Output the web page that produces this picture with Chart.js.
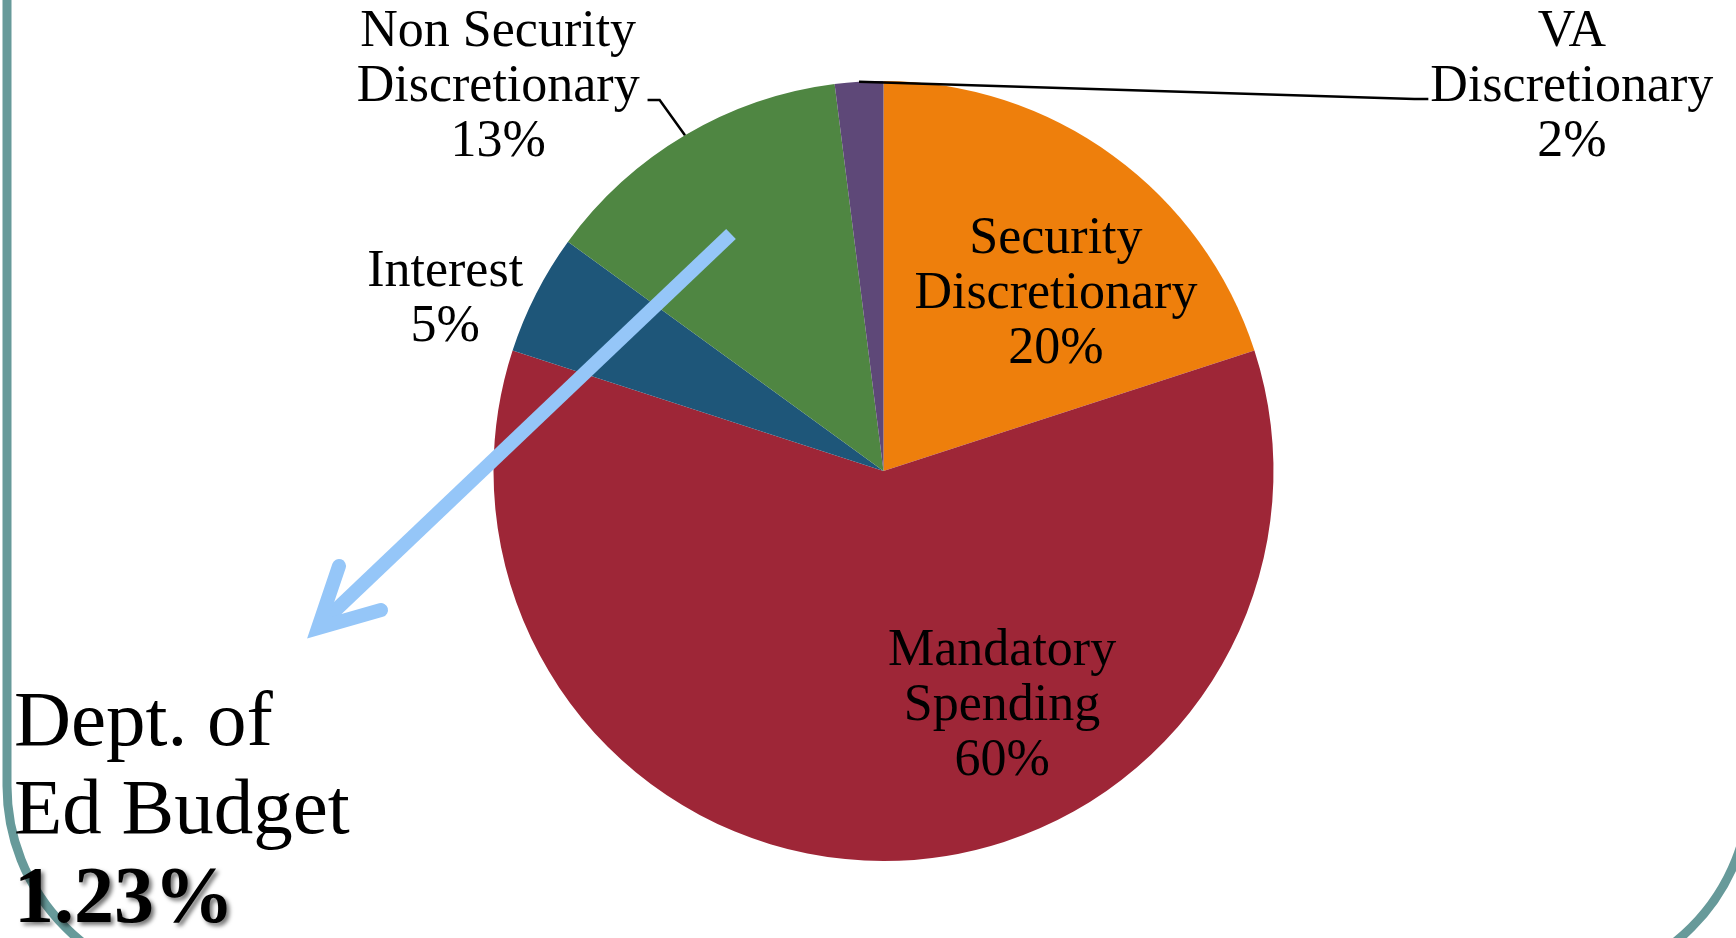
<!DOCTYPE html>
<html lang="en">
<head>
<meta charset="UTF-8">
<title>Federal Budget Share</title>
<style>
  html, body { margin: 0; padding: 0; background: #ffffff; }
  #budgetChart { display: block; }
  .warm { position: absolute; left: -9999px; top: 0; font-family: "Liberation Serif"; }
</style>
</head>
<body>
<span class="warm">Aa <b>Bb</b></span>
<canvas id="budgetChart" width="1736" height="938" style="width:1736px;height:938px;"></canvas>
<script src="https://cdn.jsdelivr.net/npm/chart.js@4/dist/chart.umd.min.js"></script>
<script>
// chart data
const categories = ['Security Discretionary', 'Mandatory Spending', 'Interest', 'Non Security Discretionary', 'VA Discretionary'];
const shares = [20, 60, 5, 13, 2];
const sliceColors = ['#EE7F0C', '#9E2637', '#1E5679', '#4F8642', '#5E4878'];
const sideNote = ['Dept. of', 'Ed Budget'];
const sideValue = '1.23%';

// where each label sits, in pie radii from the centre (first line baseline)
const labelSpots = [
  { dx: 0.442, dy: -0.559 },
  { dx: 0.304, dy: 0.497 },
  { dx: -1.124, dy: -0.474 },
  { dx: -0.988, dy: -1.090 },
  { dx: 1.765, dy: -1.090 }
];
// leader lines for outside labels: elbow and end, in radii from the centre
const leaders = {
  3: [{ dx: -0.574, dy: -0.951 }, { dx: -0.605, dy: -0.951 }],
  4: [{ dx: 1.361, dy: -0.954 }, { dx: 1.397, dy: -0.954 }]
};

const SERIF = '"Liberation Serif", "Times New Roman", "DejaVu Serif", serif';

function splitName(name) {
  const i = name.lastIndexOf(' ');
  return i < 0 ? [name] : [name.slice(0, i), name.slice(i + 1)];
}

const decorations = {
  id: 'decorations',
  afterDatasetsDraw(chart) {
    const ctx = chart.ctx;
    const arcs = chart.getDatasetMeta(0).data;
    const cx = arcs[0].x, cy = arcs[0].y, r = arcs[0].outerRadius;

    ctx.save();
    // leader lines
    ctx.strokeStyle = '#000000';
    ctx.lineWidth = 2.5;
    Object.keys(leaders).forEach(function (k) {
      const arc = arcs[k];
      const mid = (arc.startAngle + arc.endAngle) / 2;
      ctx.beginPath();
      ctx.moveTo(cx + Math.cos(mid) * r, cy + Math.sin(mid) * r);
      leaders[k].forEach(function (p) { ctx.lineTo(cx + p.dx * r, cy + p.dy * r); });
      ctx.stroke();
    });

    // slice labels
    ctx.fillStyle = '#000000';
    ctx.font = '52px ' + SERIF;
    ctx.textAlign = 'center';
    ctx.textBaseline = 'alphabetic';
    categories.forEach(function (name, i) {
      const lines = splitName(name).concat([shares[i] + '%']);
      const x = cx + labelSpots[i].dx * r;
      let y = cy + labelSpots[i].dy * r;
      lines.forEach(function (t) { ctx.fillText(t, x, y); y += 55; });
    });

    // light blue arrow
    ctx.strokeStyle = '#95C6F8';
    ctx.lineWidth = 14;
    ctx.lineCap = 'butt';
    ctx.beginPath();
    ctx.moveTo(731, 234);
    ctx.lineTo(322, 623);
    ctx.stroke();
    ctx.lineCap = 'round';
    ctx.lineJoin = 'miter';
    ctx.miterLimit = 10;
    ctx.beginPath();
    ctx.moveTo(339, 566);
    ctx.lineTo(318, 628);
    ctx.lineTo(381, 610);
    ctx.stroke();

    // frame
    ctx.strokeStyle = '#679A9A';
    ctx.lineWidth = 9;
    ctx.beginPath();
    ctx.roundRect(7, -400, 1743, 1386, 200);
    ctx.stroke();

    // side note
    ctx.textAlign = 'left';
    ctx.fillStyle = '#000000';
    ctx.font = '79px ' + SERIF;
    ctx.fillText(sideNote[0], 14, 745);
    ctx.fillText(sideNote[1], 14, 833);
    ctx.font = 'bold 80px ' + SERIF;
    ctx.shadowColor = 'rgba(0,0,0,0.55)';
    ctx.shadowOffsetX = 3;
    ctx.shadowOffsetY = 3;
    ctx.shadowBlur = 4;
    ctx.fillText(sideValue, 14, 922);
    ctx.restore();
  }
};

function drawChart() {
  new Chart(document.getElementById('budgetChart'), {
    type: 'pie',
    data: {
      labels: categories,
      datasets: [{
        data: shares,
        backgroundColor: sliceColors,
        borderWidth: 0,
        hoverOffset: 0
      }]
    },
    options: {
      responsive: false,
      animation: false,
      events: [],
      layout: { padding: { top: 81, bottom: 77, left: 31, right: 0 } },
      plugins: {
        legend: { display: false },
        tooltip: { enabled: false }
      }
    },
    plugins: [decorations]
  });
}

Promise.all([
  document.fonts.load('52px "Liberation Serif"'),
  document.fonts.load('bold 80px "Liberation Serif"')
]).then(drawChart, drawChart);
</script>
</body>
</html>
